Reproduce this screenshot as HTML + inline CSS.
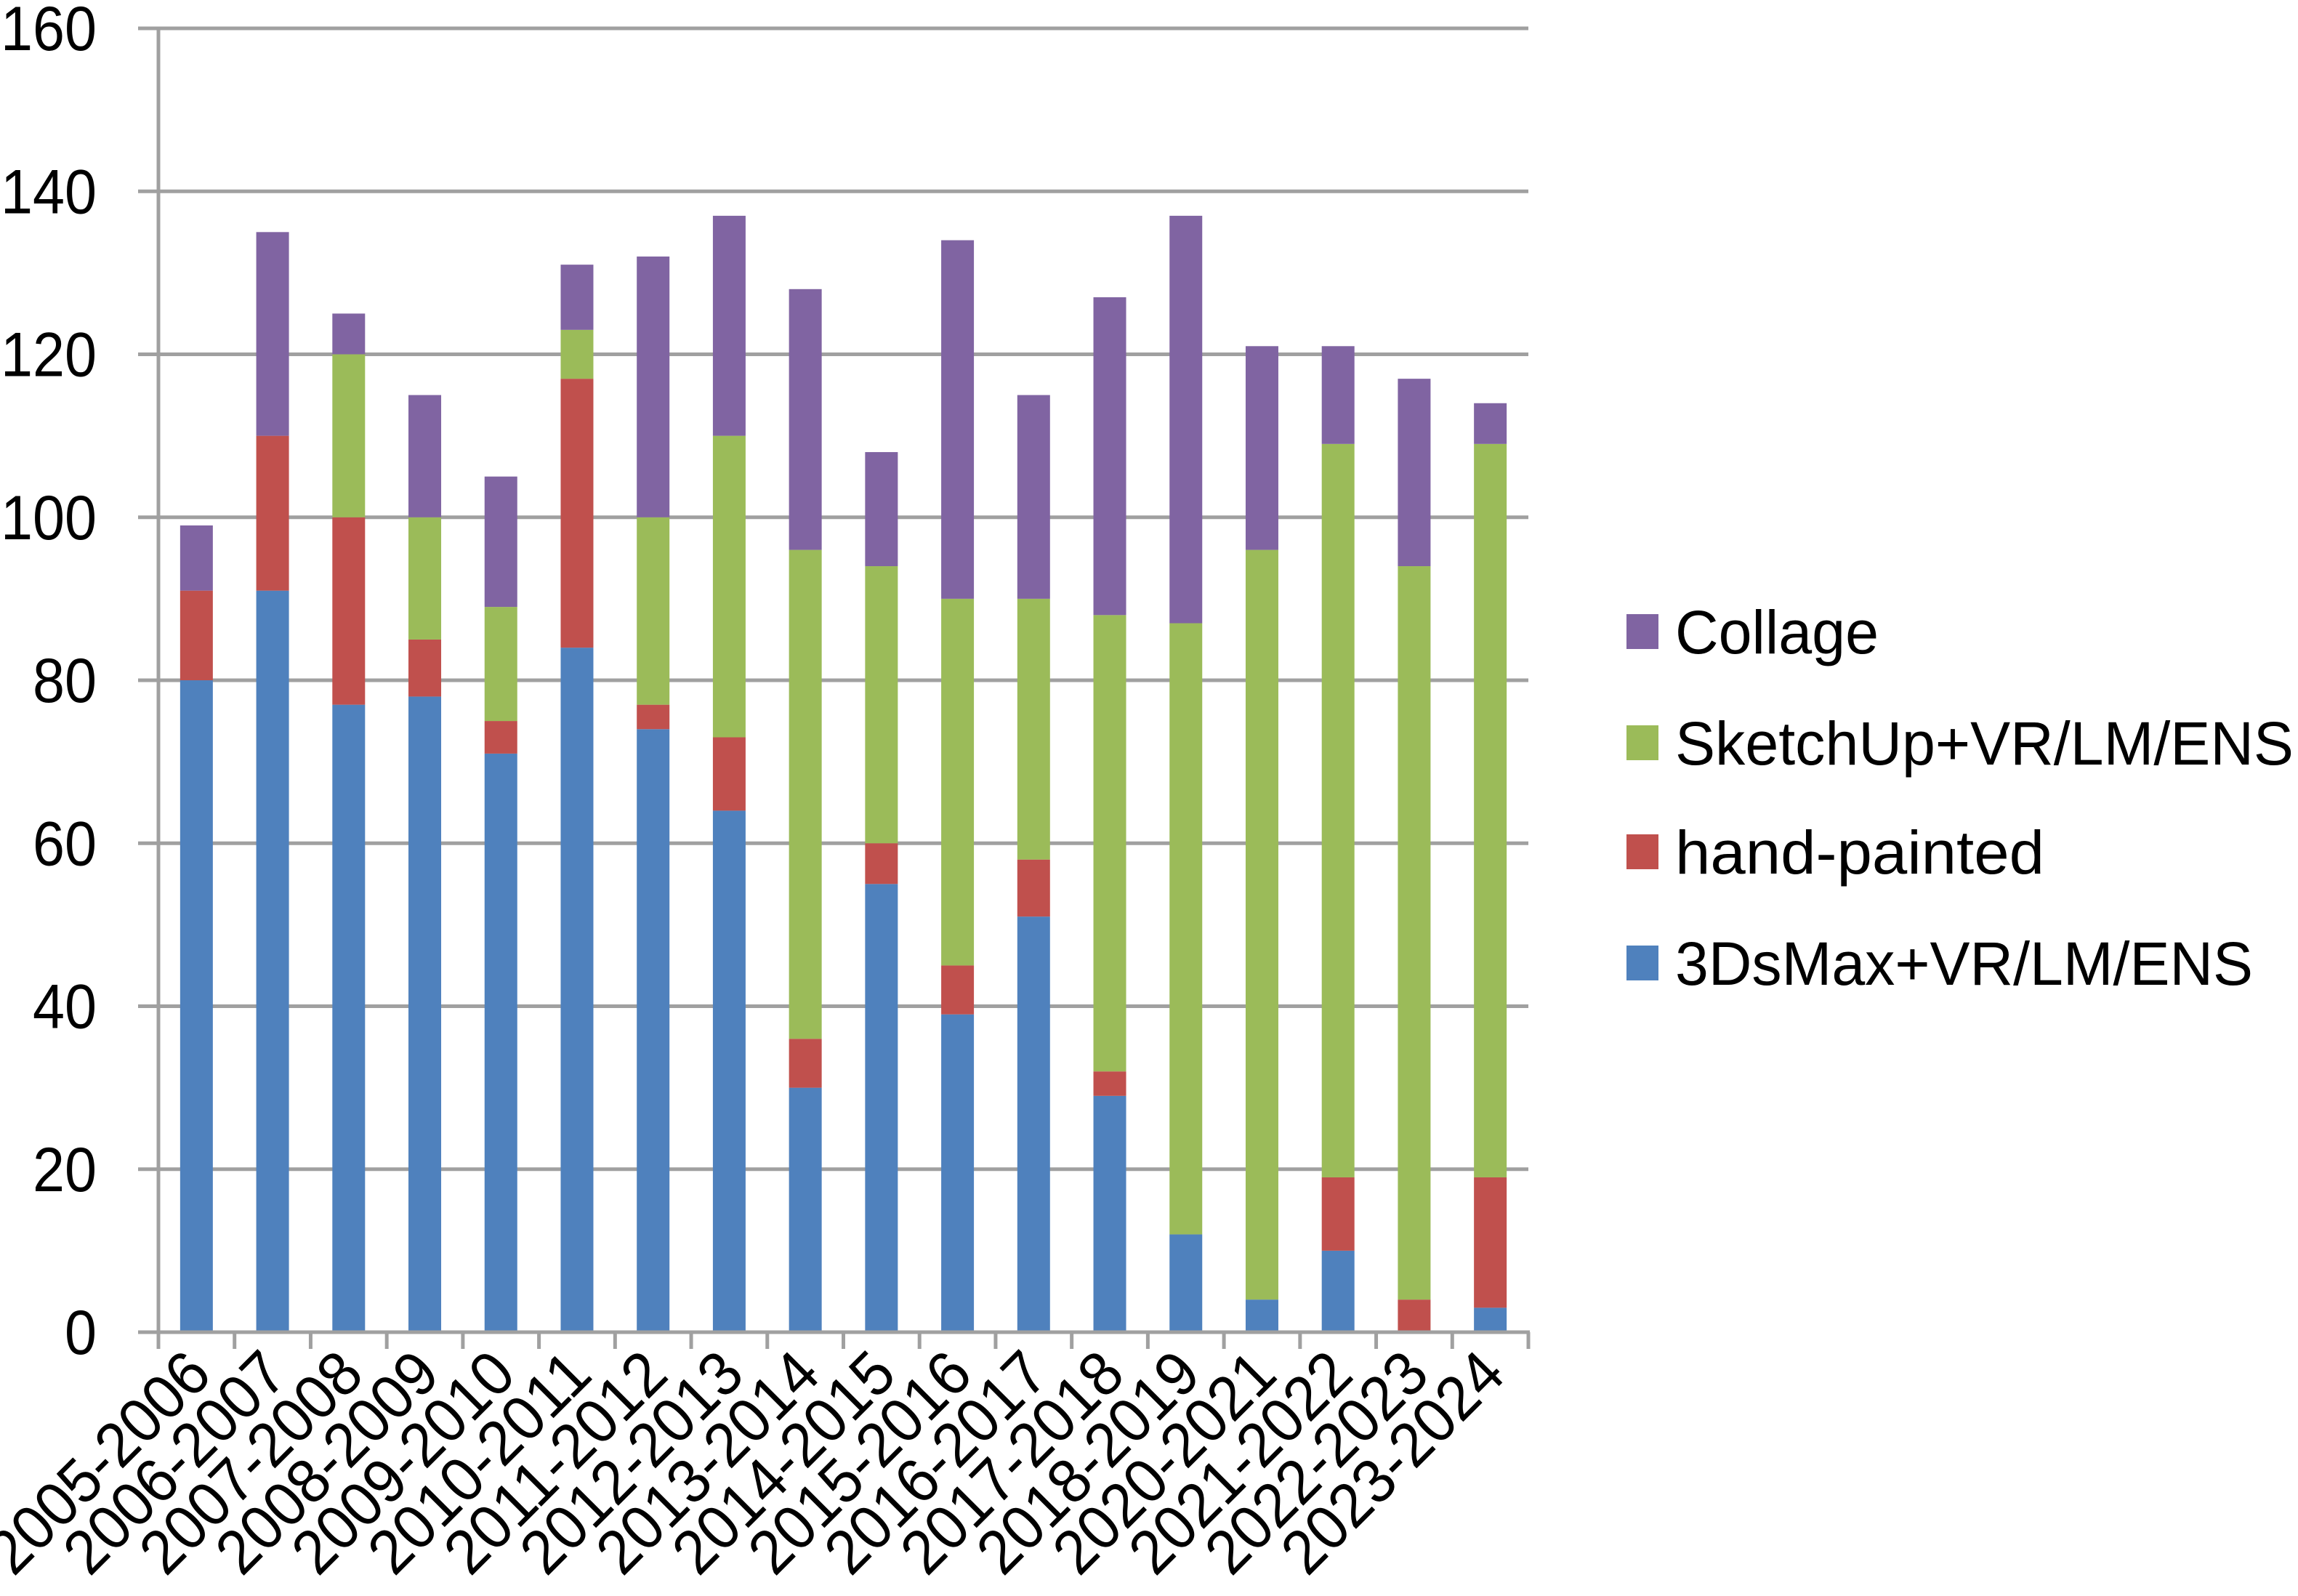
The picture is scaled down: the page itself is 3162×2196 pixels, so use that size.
<!DOCTYPE html>
<html><head><meta charset="utf-8"><style>
html,body{margin:0;padding:0;background:#fff;}
svg{display:block;}
text{font-family:"Liberation Sans","DejaVu Sans",sans-serif;fill:#000;}
</style></head><body>
<svg id="chart" width="3162" height="2196" viewBox="0 0 3162 2196" xmlns="http://www.w3.org/2000/svg">
<g id="grid"></g>
<g id="bars"></g>
<g id="axes"></g>
<g id="legend"></g>
</svg>
<script>
const categories = ["2005-2006","2006-2007","2007-2008","2008-2009","2009-2010","2010-2011","2011-2012","2012-2013","2013-2014","2014-2015","2015-2016","2016-2017","2017-2018","2018-2019","2020-2021","2021-2022","2022-2023","2023-2024"];
const max3ds = [80,91,77,78,71,84,74,64,30,55,39,51,29,12,4,10,0,3];
const handPainted = [11,19,23,7,4,33,3,9,6,5,6,7,3,0,0,9,4,16];
const sketchUp = [0,0,20,15,14,6,23,37,60,34,45,32,56,75,92,90,90,90];
const collage = [8,25,5,15,16,8,32,27,32,14,44,25,39,50,25,12,23,5];
const yTicks = [0,20,40,60,80,100,120,140,160];
const seriesNames = ["Collage","SketchUp+VR/LM/ENS","hand-painted","3DsMax+VR/LM/ENS"];

const NS="http://www.w3.org/2000/svg";
const X0=218, X1=2103, Y0=1833, Ytop=39, YMAX=160;
const colors={m:"#4F81BD",h:"#C0504D",s:"#9BBB59",c:"#8064A2"};
const bw=(X1-X0)/categories.length;
function y(v){return Y0-(v/YMAX)*(Y0-Ytop);}
function xc(i){return X0+bw*(i+0.5);}
function mk(tag,attrs,parent){const e=document.createElementNS(NS,tag);for(const k in attrs)e.setAttribute(k,attrs[k]);parent.appendChild(e);return e;}

const grid=document.getElementById('grid');
const axes=document.getElementById('axes');
yTicks.forEach(t=>{
  if(t>0){
    const l=mk('line',{x1:190,x2:X1,y1:y(t),y2:y(t),stroke:"#a0a0a0","stroke-width":5},grid);
    
    
  }
  const s=String(t);
  const tx=mk('text',{x:133,y:y(t)+30,"text-anchor":"end","font-size":86,textLength:44*s.length,lengthAdjust:"spacingAndGlyphs"},axes);
  tx.textContent=s;
  
  
});

const bars=document.getElementById('bars');
const barW=45;
categories.forEach((c,i)=>{
  const segs=[["m",max3ds[i]],["h",handPainted[i]],["s",sketchUp[i]],["c",collage[i]]];
  let base=0;
  segs.forEach(([k,v])=>{
    if(v>0){
      const r=mk('rect',{x:xc(i)-barW/2,y:y(base+v),width:barW,height:y(base)-y(base+v),fill:colors[k]},bars);
      
      
    }
    base+=v;
  });
});

const ya=mk('line',{x1:X0,x2:X0,y1:Ytop-2,y2:Y0+23,stroke:"#a0a0a0","stroke-width":5},axes);


const xa=mk('line',{x1:190,x2:X1+2,y1:Y0,y2:Y0,stroke:"#a0a0a0","stroke-width":5},axes);


for(let i=1;i<=categories.length;i++){
  const tk=mk('line',{x1:X0+bw*i,x2:X0+bw*i,y1:Y0,y2:Y0+23,stroke:"#a0a0a0","stroke-width":5},axes);
  
  
}
categories.forEach((c,i)=>{
  const px=xc(i)+24, py=Y0+62;
  const t=mk('text',{x:px,y:py,"text-anchor":"end","font-size":86,transform:`rotate(-45 ${px} ${py})`,textLength:390,lengthAdjust:"spacingAndGlyphs"},axes);
  t.textContent=c;
  
  
});

const leg=document.getElementById('legend');
const legCols=[colors.c,colors.s,colors.h,colors.m];
const legY=[869,1022,1172,1325];
const legW=[280,851,508,795];
seriesNames.forEach((n,i)=>{
  const g=mk('g',{},leg);
  
  
  const r=mk('rect',{x:2238,y:legY[i]-24,width:44,height:48,fill:legCols[i]},g);
  
  
  const t=mk('text',{x:2305,y:legY[i]+30,"font-size":84,textLength:legW[i],lengthAdjust:"spacingAndGlyphs"},g);
  t.textContent=n;
  
  
});
</script>
</body></html>
